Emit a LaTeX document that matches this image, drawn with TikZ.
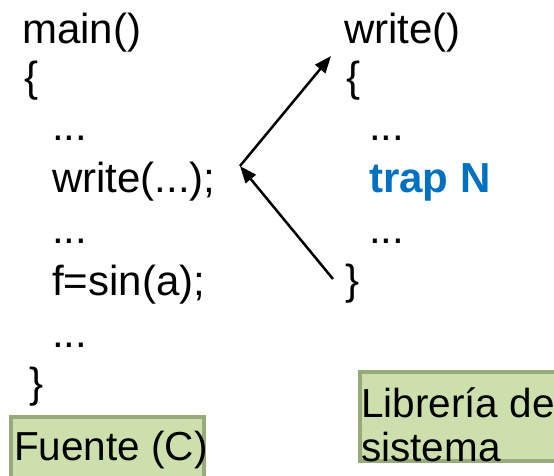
\documentclass[tikz,border=0pt]{standalone}
\usepackage{fontspec}
\setmainfont{Liberation Sans}
\usepackage{tikz}
\usetikzlibrary{arrows.meta,positioning}
\definecolor{trapblue}{RGB}{0,112,192}
\definecolor{boxfill}{RGB}{205,223,172}
\definecolor{boxline}{RGB}{152,170,122}

\begin{document}
\begin{tikzpicture}[x=1pt,y=-1pt,>={Triangle[length=17pt,width=13pt]},
            code/.style={anchor=base west,inner sep=0pt,font=\fontsize{42}{50}\selectfont},
            boxtext/.style={anchor=base west,inner sep=0pt,font=\fontsize{40.5}{48}\selectfont},
            label box/.style={fill=boxfill,draw=boxline,line width=4pt}]
  \useasboundingbox (0,0) rectangle (554,476);

  % boxes under the two columns
  \filldraw[label box] (11,417) rectangle (204,520);
  \filldraw[label box] (360,372) rectangle (620,461);
  \node[boxtext] (fuente) at (14,460) {Fuente (C)};
  \node[boxtext] (libreria) at (361,417) {Librería de};
  \node[boxtext] (sistema) at (361,461) {sistema};

  % left column
  \node[code] (main) at (22,44) {main()};
  \node[code] (mopen) at (24,92) {\{};
  \node[code] (m1) at (52,141) {...};
  \node[code] (mcall) at (52,192) {write(...);};
  \node[code] (m2) at (52,243) {...};
  \node[code] (msin) at (52,295) {f=sin(a);};
  \node[code] (m3) at (52,347) {...};
  \node[code] (mclose) at (29,397) {\}};

  % right column
  \node[code] (write) at (344,44) {write()};
  \node[code] (wopen) at (346,92) {\{};
  \node[code] (w1) at (369,141) {...};
  \node[code,text=trapblue,font=\fontsize{42}{50}\selectfont\bfseries] (trap) at (369,192) {trap N};
  \node[code] (w2) at (369,243) {...};
  \node[code] (wclose) at (345,294) {\}};

  \coordinate (call) at (240,166);
  \coordinate (entry) at (331,56);
  \coordinate (ret) at (333,279);
  \path[->,line width=2.5pt]
    (call) edge (entry)
    (ret) edge (call);
\end{tikzpicture}
\end{document}
